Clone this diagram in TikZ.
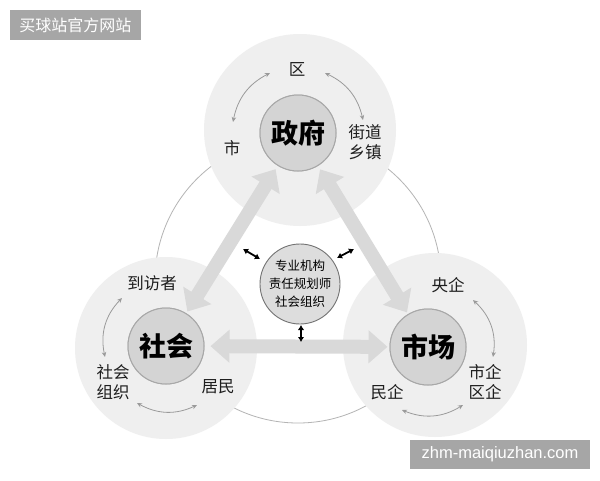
\documentclass[tikz,border=0pt]{standalone}
\usepackage{fontspec}
\setmainfont{Noto Sans CJK SC}
\newfontfamily\lat{Liberation Sans}
\usetikzlibrary{arrows.meta}
\definecolor{outerc}{HTML}{EFEFEF}
\definecolor{innerc}{HTML}{D4D4D4}
\definecolor{innerb}{HTML}{A8A8A8}
\definecolor{arrc}{HTML}{D9D9D9}
\definecolor{ringc}{HTML}{B4B4B4}
\definecolor{smallc}{HTML}{9A9A9A}
\definecolor{wmc}{HTML}{A6A6A6}
\definecolor{txt}{HTML}{1E1E1E}
\begin{document}
\begin{tikzpicture}[x=1pt,y=-1pt,
  outerdisc/.style={circle, fill=outerc, inner sep=0pt},
  innerdisc/.style={circle, fill=innerc, draw=innerb, line width=1pt, minimum size=76pt, inner sep=0pt, font=\fontsize{27}{30}\selectfont\bfseries, text=black},
  centerdisc/.style={circle, fill=innerc!80!white, draw=black!55, line width=0.9pt, minimum size=80pt, inner sep=0pt, align=center, font=\fontsize{12.5}{18}\selectfont, text=black},
  lab/.style={align=center, font=\fontsize{16.5}{20}\selectfont, text=txt, inner sep=0pt},
  bigarrow/.style={draw=arrc, line width=14pt, {Triangle[width=32pt,length=19pt]}-{Triangle[width=32pt,length=19pt]}},
  smallarrow/.style={draw=smallc, line width=0.8pt, {Stealth[length=5pt,width=4.5pt]}-{Stealth[length=5pt,width=4.5pt]}},
  blackarrow/.style={draw=black, line width=1.8pt, {Latex[length=5pt,width=6.5pt]}-{Latex[length=5pt,width=6.5pt]}},
  wm/.style={fill=wmc, text=white, inner sep=0pt}
]
\fill[white] (0,0) rectangle (600,480);
\useasboundingbox (0,0) rectangle (600,480);

% big thin ring
\node[circle, draw=ringc, line width=0.8pt, minimum size=286pt, inner sep=0pt] (ring) at (298,280) {};

% outer discs
\node[outerdisc, minimum size=192pt] (gO) at (300,130) {};
\node[outerdisc, minimum size=182pt] (sO) at (166,348) {};
\node[outerdisc, minimum size=184pt] (mO) at (435,345) {};

% inner discs
\node[innerdisc] (gov) at (298,133) {政府};
\node[innerdisc] (soc) at (166,346) {社会};
\node[innerdisc] (mkt) at (428,347) {市场};

% big arrows
\draw[bigarrow, shorten <=2pt, shorten >=4pt] (soc) -- (gov);
\draw[bigarrow, shorten <=4pt, shorten >=2pt] (gov) -- (mkt);
\draw[bigarrow, shorten <=6pt, shorten >=2pt] (soc) -- (mkt);

% redraw inner discs on top
\node[innerdisc] at (298,133) {政府};
\node[innerdisc] at (166,346) {社会};
\node[innerdisc] at (428,347) {市场};

% center disc
\node[centerdisc] (ctr) at (300,284) {专业机构\\责任规划师\\社会组织};

% small black arrows
\coordinate (b1a) at (243,249);
\coordinate (b1b) at (260,259);
\coordinate (b2a) at (337,258);
\coordinate (b2b) at (354,249);
\coordinate (b3a) at (301,325);
\coordinate (b3b) at (301,342);
\draw[blackarrow] (b1a) -- (b1b);
\draw[blackarrow] (b2a) -- (b2b);
\draw[blackarrow] (b3a) -- (b3b);

% labels: government
\node[lab] (g1) at (297,69) {区};
\node[lab] (g2) at (232,148) {市};
\node[lab] (g3) at (365,142) {街道\\乡镇};
% society
\node[lab] (s1) at (152,283) {到访者};
\node[lab] (s2) at (113,382) {社会\\组织};
\node[lab] (s3) at (218,387) {居民};
% market
\node[lab] (m1) at (448,285) {央企};
\node[lab] (m2) at (485,382) {市企\\区企};
\node[lab] (m3) at (387,392) {民企};

% small curved arrows
\coordinate (ga1) at (270,73); \coordinate (ga2) at (233,122);
\coordinate (gb1) at (325,73); \coordinate (gb2) at (363,120);
\coordinate (sa1) at (122,298); \coordinate (sa2) at (105,357);
\coordinate (sb1) at (137,403); \coordinate (sb2) at (197,405);
\coordinate (ma1) at (473,300); \coordinate (ma2) at (493,357);
\coordinate (mb1) at (402,410); \coordinate (mb2) at (463,405);
\draw[smallarrow] (ga1) to[bend right=26] (ga2);
\draw[smallarrow] (gb1) to[bend left=26] (gb2);
\draw[smallarrow] (sa1) to[bend right=28] (sa2);
\draw[smallarrow] (sb1) to[bend right=27] (sb2);
\draw[smallarrow] (ma1) to[bend left=28] (ma2);
\draw[smallarrow] (mb1) to[bend right=27] (mb2);

% watermarks
\node[wm, minimum width=131pt, minimum height=30pt, font=\fontsize{16}{18}\selectfont] (wm1) at (75.5,25) {买球站官方网站};
\node[wm, minimum width=180pt, minimum height=29pt, font=\lat\fontsize{16.5}{18}\selectfont] (wm2) at (500,454.5) {zhm-maiqiuzhan.com};
\end{tikzpicture}
\end{document}
